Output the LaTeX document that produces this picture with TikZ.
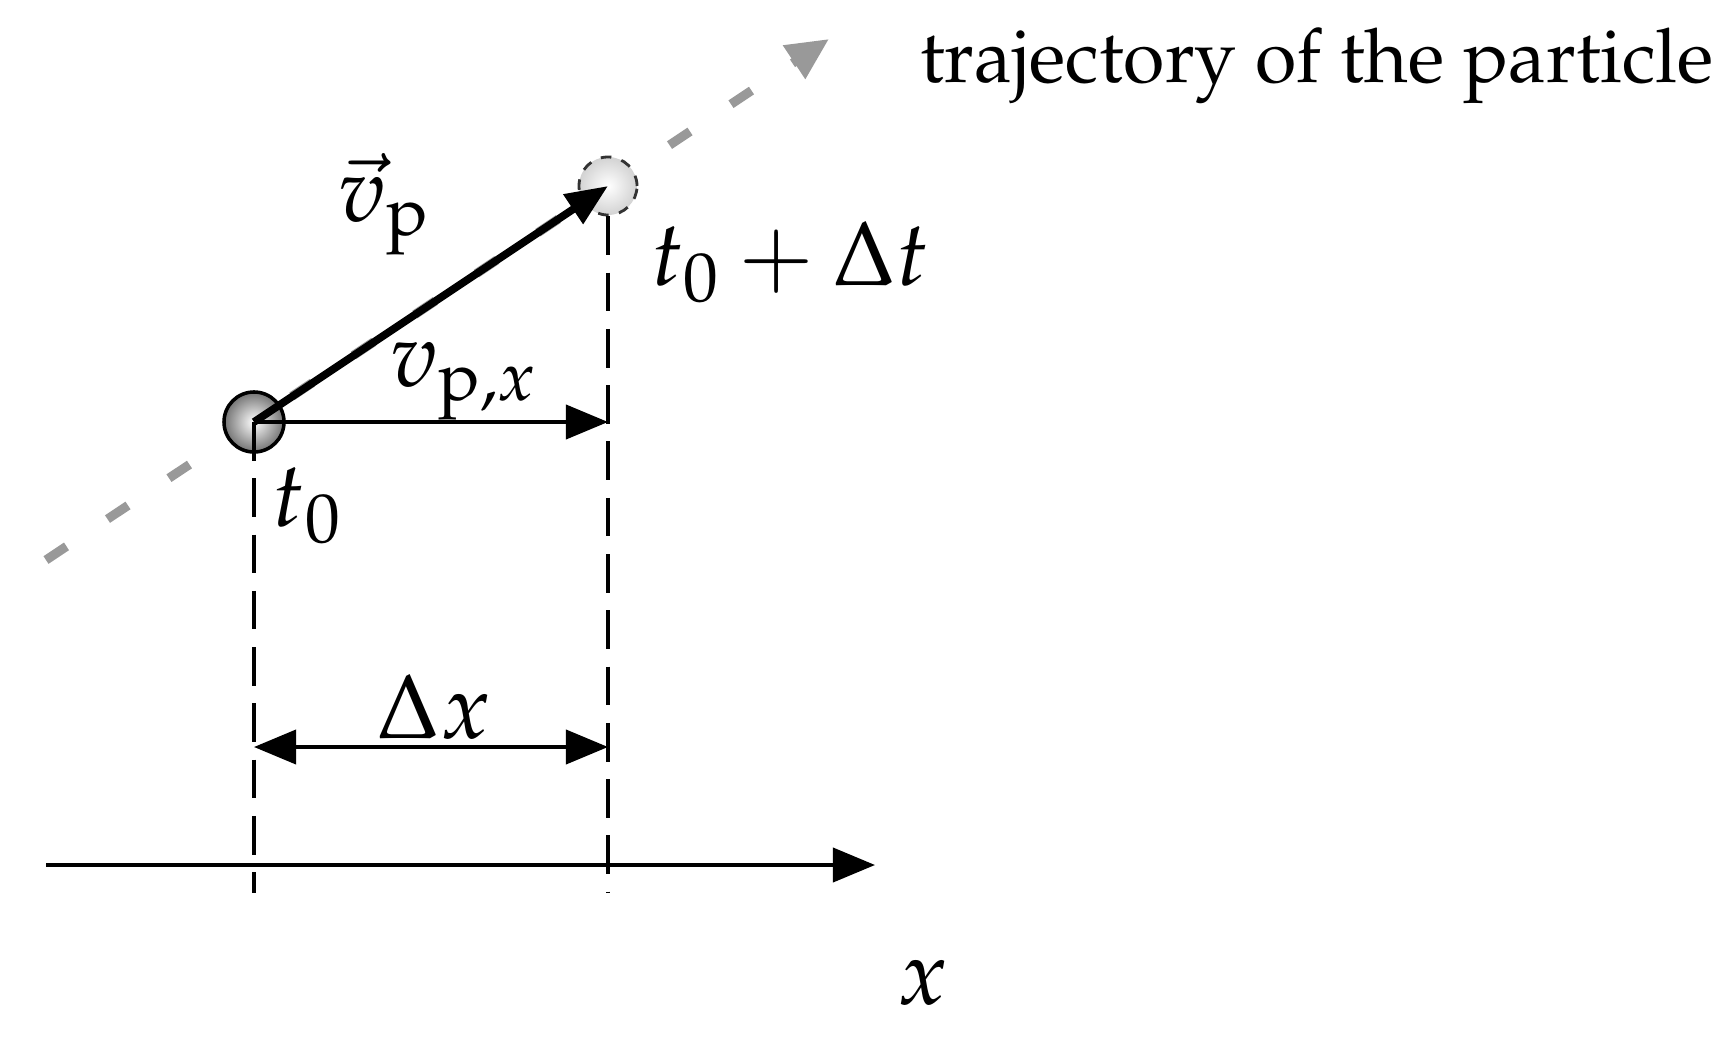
\documentclass[tikz,border=0pt]{standalone}
\usepackage[T1]{fontenc}
\usepackage{mathpazo}
\usetikzlibrary{arrows.meta}
\begin{document}
\begin{tikzpicture}[x=0.01cm,y=-0.01cm,
  tip/.style={-{Triangle[length=0.42cm,width=0.34cm]}},
  lbl/.style={font=\fontencoding{T1}\fontfamily{ppl}\fontsize{26}{30}\selectfont},
  tlbl/.style={font=\fontencoding{T1}\fontfamily{ppl}\fontsize{21.4}{25}\selectfont},
  vline/.style={dash pattern=on 11pt off 5pt,line width=0.9pt}]
\useasboundingbox (0,0) rectangle (1731,1043);
\coordinate (A) at (254,422);
\coordinate (B) at (608,186);
\coordinate (TS) at (46,560);
\coordinate (TE) at (829,39);
\draw[gray!80,line width=2.6pt,dash pattern=on 7pt off 14pt] (TS) -- (B);
\draw[gray!80,line width=2.6pt,dash pattern=on 7pt off 14pt,-{Triangle[length=0.42cm,width=0.38cm]}] (B) -- (TE);
\node[circle,minimum size=0.58cm,inner sep=0,draw=black!80,dashed,line width=0.8pt,shade,inner color=white,outer color=gray!35] (pB) at (B) {};
\node[circle,minimum size=0.6cm,inner sep=0,draw=black,line width=1pt,shade,inner color=white,outer color=gray!90!black] (pA) at (A) {};
\coordinate (Ab) at (254,893); \coordinate (Bb) at (608,893);
\draw[vline] (A) -- (Ab);
\draw[vline] (pB.south) -- (Bb);
\draw[tip,line width=2.2pt] (A) -- (B);
\draw[tip,line width=1.1pt] (A) -- (608,422) coordinate (C);
\draw[{Triangle[length=0.42cm,width=0.34cm]}-{Triangle[length=0.42cm,width=0.34cm]},line width=1.1pt] (254,747) coordinate (D1) -- (608,747) coordinate (D2);
\draw[tip,line width=1.1pt] (46,865) coordinate (X0) -- (875,865) coordinate (X1);
\node[tlbl,anchor=west] (traj) at (908,66) {trajectory of the particle};
\node[lbl] (lvp) at (384,204) {$\vec v_{\mathrm p}$};
\node[lbl] (ltd) at (790,262) {$t_0+\Delta t$};
\node[lbl] (lvx) at (464,381) {$v_{\mathrm p,x}$};
\node[lbl] (lt0) at (307,506) {$t_0$};
\node[lbl] (ldx) at (434,707) {$\Delta x$};
\node[lbl] (lx) at (923,983) {$x$};
\end{tikzpicture}
\end{document}
